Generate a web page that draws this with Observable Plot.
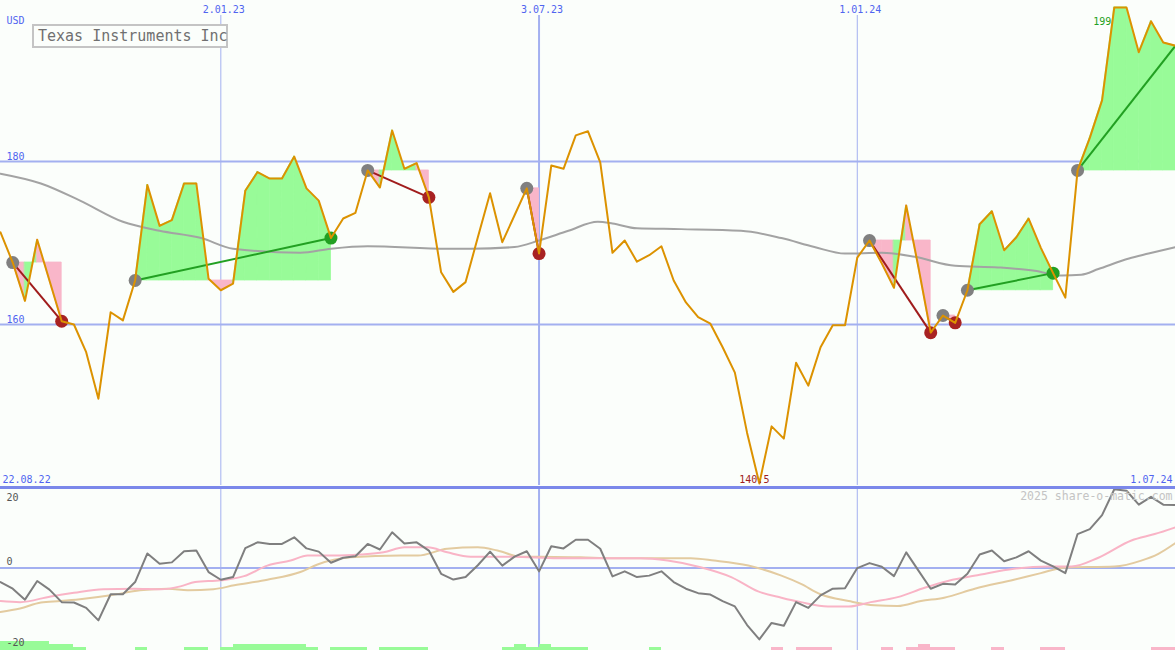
<!DOCTYPE html>
<html><head><meta charset="utf-8">
<script src="https://cdn.jsdelivr.net/npm/d3@7"></script>
<script src="https://cdn.jsdelivr.net/npm/@observablehq/plot@0.6"></script>
<style>
html,body{margin:0;padding:0;background:#fbfefb;}
#wrap{position:relative;width:1175px;height:650px;overflow:hidden;background:#fbfefb;}
#upper,#lower{position:absolute;left:0;}
#upper{top:0}
#lower{top:485px}
#title{position:absolute;left:32px;top:24px;width:196px;height:24px;box-sizing:border-box;border:2px solid #c4c4c4;background:#fbfefb;
  font:15px "DejaVu Sans Mono",monospace;color:#707070;line-height:20px;padding-left:4px;white-space:nowrap;}
svg{display:block}
</style></head><body>
<div id="wrap"><div id="upper"></div><div id="lower"></div><div id="title">Texas Instruments Inc</div></div>
<script>
// ---- data (weekly closes, week 0 = 29.08.22, week 96 = 1.07.24) ----
const price = [171.3,167.6,162.9,170.4,165.4,160.4,160.0,156.6,150.9,161.5,
 160.5,165.4,177.1,172.1,172.8,177.3,177.3,165.6,164.2,165.0,
 176.4,178.7,177.9,177.9,180.6,176.7,175.2,170.6,173.0,173.7,
 178.9,176.8,183.8,179.1,179.8,175.6,166.4,164.0,165.2,170.7,
 176.1,170.1,173.4,176.7,168.7,179.5,179.1,183.2,183.7,179.9,
 168.8,170.3,167.7,168.5,169.6,165.4,162.7,160.9,160.1,157.2,
 154.1,146.7,140.5,147.5,146.0,155.3,152.5,157.2,159.9,159.9,
 168.2,170.3,167.5,164.5,174.6,167.0,159.0,161.1,160.2,164.2,
 172.3,173.9,169.1,170.7,173.0,169.4,166.3,163.3,178.9,182.9,
 187.5,198.9,198.9,193.4,197.2,194.6,194.2];

const maWeek = [0,3.3,6.5,10,13,16.4,19,24.5,27,30,36.5,38.4,42,44,46.4,48.8,50,52,55.6,60.5,63.8,66.5,69,72,74.7,78,81.5,84.5,86.7,88.3,89.7,92.2,93.8,96];
const maValue = [178.5,177.3,175.2,172.6,171.5,170.6,169.3,168.8,169.3,169.6,169.3,169.3,169.5,170.3,171.5,172.6,172.4,171.8,171.7,171.5,170.6,169.5,168.7,168.8,168.3,167.2,167.0,166.6,166.0,166.1,166.8,168.1,168.7,169.5];

const tradeStart = [1,11,30,43,71,77,79,88];
const tradeEnd = [5,27,35,44,76,78,86,96];
const tradeOutcome = ["loss","win","loss","loss","loss","loss","win","open"];

const oscValue = [-3.9,-5.75,-8.8,-3.6,-6.0,-9.5,-9.6,-11.1,-14.6,-7.3,
 -7.3,-3.9,4.1,1.2,1.6,4.7,4.9,-1.1,-3.25,-2.5,
 5.6,7.2,6.75,6.75,8.6,5.5,4.6,1.5,2.9,3.3,
 6.75,5.2,10.0,6.9,7.2,4.9,-1.6,-3.2,-2.5,0.8,
 4.6,0.7,3.2,4.7,-0.9,6.1,5.5,7.9,7.9,5.4,
 -2.3,-0.9,-2.5,-2.1,-0.9,-3.9,-5.75,-7.0,-7.4,-9.2,
 -10.7,-15.9,-19.9,-15.3,-16.1,-9.5,-11.1,-7.6,-5.75,-5.6,
 0,1.4,0.4,-2.25,4.4,-0.7,-5.75,-4.4,-4.6,-1.6,
 3.8,4.9,1.9,3.0,4.7,2.1,0.5,-1.4,9.5,10.9,
 14.8,22.0,21.6,17.7,19.9,17.7,17.6];

const pinkWeek = [0,1.6,4.1,6,8.4,10.9,13.1,14.7,15.9,18,19.9,21.8,23.7,25.1,27.2,29.4,31.3,33,34.9,36.5,38.4,41.9,45.5,50.1,52.3,54.5,57.2,59.7,61.9,63.8,65.4,67.6,69.3,71.1,73.3,75.5,77.4,80.1,82.8,85.6,87.5,89.7,92.4,94.3,96];
const pinkValue = [-9.2,-9.5,-7.9,-6.9,-5.9,-5.75,-5.9,-5.1,-3.9,-3.4,-2.25,0.7,2.1,3.5,3.5,3.8,4.4,5.8,5.8,4.4,3.2,3.2,2.75,2.75,2.75,2.1,0.25,-2.5,-6.5,-8.25,-9.5,-10.7,-10.7,-9.5,-8.1,-5.5,-3.6,-1.8,-0.2,0.45,0.45,2.9,7.7,9.5,11.4];

const tanWeek = [0,1.6,3.3,4.9,6.5,9,11.4,13.7,15.3,17.4,19.1,21.8,24.5,25.9,28.6,32.7,34.1,36.5,39,40.6,42.5,44.2,47.4,50.1,54.5,56.4,58.3,61.1,63.8,65.4,67,69.3,71.4,73.3,75.2,77.1,79.6,82.8,85,86.9,91,93.2,94.6,96];
const tanValue = [-12.25,-11.3,-9.6,-9.2,-8.7,-7.6,-6.2,-5.75,-6.2,-5.9,-4.8,-3.25,-1.1,1.0,3.0,3.5,3.5,5.4,5.8,4.9,3.2,3.2,3.0,2.75,2.75,2.75,2.1,0.7,-2.1,-4.4,-7.3,-9.2,-10.4,-10.6,-9.2,-8.25,-5.75,-3.25,-1.4,0.1,0.45,2.1,4.0,7.0];

const barWeek = [0,1,2,3,4,5,6,11,15,16,18,19,20,21,22,23,24,25,27,28,29,31,32,33,34,41,42,43,44,45,46,47,53,63,65,66,67,72,74,75,76,77,81,85,86,94,95];
const barValue = [3,3,3,3,2,2,1,1,1,1,1,2,2,2,2,2,2,1,1,1,1,1,1,1,1,1,2,1,2,1,1,1,1,-1,-1,-1,-1,-1,-1,-2,-1,-1,-1,-1,-1,-1,-1];

const axisWeeks = [18,44,70];
const axisLabels = ["2.01.23","3.07.23","1.01.24"];
const priceTicks = [180,160];
const oscTicks = [20,0,-20];
const startLabel = "22.08.22";
const endLabel = "1.07.24";
const currency = "USD";
const watermark = "2025 share-o-matic.com";

// ---- colours ----
const BG = "#fbfefb", GRID = "#a3b0f0", SEP = "#7b88ea", TICK = "#5064f0";
const GREEN = "#98fb98", PINK = "#f9b6c9";
const FONT = "DejaVu Sans Mono, monospace";

// ---- derived tables ----
const weeks = d3.range(price.length);
const priceRows = weeks.map(i => ({x: i, y: price[i]}));
const maRows = maWeek.map((w, i) => ({x: w, y: maValue[i]}));
const trades = tradeStart.map((s, i) => ({s, e: tradeEnd[i], outcome: tradeOutcome[i]}));
const fillRows = [];
trades.forEach((t, ti) => {
  const base = price[t.s];
  for (let k = t.s; k < t.e; k++) {
    const fill = price[k + 1] >= base ? GREEN : PINK;
    const seg = ti + "-" + k;
    fillRows.push({seg, x: k, base, p: price[k], fill});
    fillRows.push({seg, x: k + 1, base, p: price[k + 1], fill});
  }
});
const minIdx = d3.minIndex(price), maxIdx = d3.maxIndex(price);
const tickText = (data, opts) => Plot.text(data, {fill: TICK, fontSize: 10, lineAnchor: "middle", ...opts});

const upper = Plot.plot({
  width: 1175, height: 487, margin: 0,
  style: {background: "transparent", fontFamily: FONT},
  x: {type: "linear", domain: [0, 96], axis: null},
  y: {domain: [140, 199.75], axis: null},
  color: {type: "identity"},
  marks: [
    Plot.ruleX(axisWeeks, {x: d => d, stroke: GRID, strokeWidth: (d, i) => i === 1 ? 2 : 1, insetTop: 15}),
    Plot.ruleY(priceTicks, {y: d => d, stroke: GRID, strokeWidth: 2}),
    Plot.areaY(fillRows, {x: "x", y1: "base", y2: "p", z: "seg", fill: "fill", stroke: "fill", strokeWidth: 0.8}),
    Plot.line(maRows, {x: "x", y: "y", stroke: "#a3a3a3", strokeWidth: 2, curve: "monotone-x"}),
    Plot.link(trades, {x1: "s", y1: d => price[d.s], x2: "e", y2: d => price[d.e],
      stroke: d => d.outcome === "loss" ? "#a01c1c" : "#22a022", strokeWidth: 2}),
    Plot.dot(trades, {x: "s", y: d => price[d.s], r: 6.5, fill: "#808080"}),
    Plot.dot(trades.filter(d => d.outcome !== "open"), {x: "e", y: d => price[d.e], r: 6.5,
      fill: d => d.outcome === "loss" ? "#a82222" : "#22a022"}),
    Plot.line(priceRows, {x: "x", y: "y", stroke: "#dc9200", strokeWidth: 2}),
    tickText(axisWeeks, {x: d => d, frameAnchor: "top", dy: 9, dx: 3, text: (d, i) => axisLabels[i], textAnchor: "middle"}),
    tickText(priceTicks, {y: d => d, frameAnchor: "left", dx: 6, dy: -5, text: d => String(d), textAnchor: "start"}),
    tickText([currency], {frameAnchor: "top-left", dx: 6, dy: 20, text: d => d, textAnchor: "start"}),
    tickText([startLabel], {frameAnchor: "bottom-left", dx: 2, dy: -8, text: d => d, textAnchor: "start"}),
    tickText([endLabel], {frameAnchor: "bottom-right", dx: -3, dy: -8, text: d => d, textAnchor: "end"}),
    Plot.text([minIdx], {x: d => d, y: d => price[d], dx: -5, dy: -4, text: d => price[d].toFixed(1),
      fill: "#a01c1c", fontSize: 10, textAnchor: "middle", lineAnchor: "middle"}),
    Plot.text([maxIdx], {x: d => d, y: d => price[d], dx: -12, dy: 14, text: d => String(Math.round(price[d])),
      fill: "#22a022", fontSize: 10, textAnchor: "middle", lineAnchor: "middle"})
  ]
});
document.getElementById("upper").appendChild(upper);

const bars = barWeek.map((w, i) => ({w, v: barValue[i]}));
const oscText = (v, dy) => Plot.text([v], {y: d => d, frameAnchor: "left", dx: 6, dy,
  text: d => String(d), fill: "#555555", fontSize: 10, textAnchor: "start", lineAnchor: "middle"});
const lower = Plot.plot({
  width: 1175, height: 165, marginTop: 2, marginBottom: 0, marginLeft: 0, marginRight: 0,
  style: {background: BG, fontFamily: FONT},
  x: {type: "linear", domain: [0, 96], axis: null},
  y: {domain: [-23, 22.5], axis: null},
  color: {type: "identity"},
  marks: [
    Plot.ruleX(axisWeeks, {x: d => d, stroke: GRID, strokeWidth: (d, i) => i === 1 ? 2 : 1}),
    Plot.ruleY([0], {stroke: GRID, strokeWidth: 2}),
    Plot.rect(bars, {x1: d => d.w, x2: d => d.w + 1, y1: -23, y2: d => -23 + Math.abs(d.v) * 0.8375,
      fill: d => d.v > 0 ? GREEN : PINK, shapeRendering: "crispEdges"}),
    Plot.line(tanWeek.map((w, i) => ({x: w, y: tanValue[i]})), {x: "x", y: "y", stroke: "#e3cba0", strokeWidth: 2, curve: "monotone-x"}),
    Plot.line(pinkWeek.map((w, i) => ({x: w, y: pinkValue[i]})), {x: "x", y: "y", stroke: "#f9b4c6", strokeWidth: 2, curve: "monotone-x"}),
    Plot.line(weeks.map(i => ({x: i, y: oscValue[i]})), {x: "x", y: "y", stroke: "#7f7f7f", strokeWidth: 2}),
    Plot.ruleY([22.5], {stroke: SEP, strokeWidth: 3}),
    oscText(oscTicks[0], 1),
    oscText(oscTicks[1], -6),
    oscText(oscTicks[2], 3),
    Plot.text([watermark], {frameAnchor: "top-right", dx: -3, dy: 9, text: d => d,
      fill: "#c4c4c4", fontSize: 11.5, textAnchor: "end", lineAnchor: "middle"})
  ]
});
document.getElementById("lower").appendChild(lower);
</script>
</body></html>
